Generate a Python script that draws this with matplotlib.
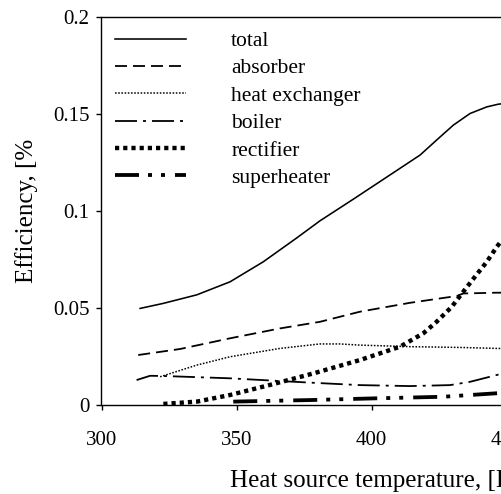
import matplotlib
matplotlib.use("Agg")
import matplotlib.pyplot as plt

plt.rcParams['font.family'] = ['Liberation Serif', 'DejaVu Serif']
plt.rcParams['lines.scale_dashes'] = False

# ---- data ----
total_T = [314.3, 322.9, 335.3, 347.6, 359.9, 372.3, 380.9, 393.3, 405.6, 418.0, 424.1, 430.3, 436.5, 442.7, 447.0, 451.0]
total_eff = [0.0499, 0.0525, 0.0569, 0.0636, 0.0739, 0.0862, 0.0950, 0.1062, 0.1175, 0.1289, 0.1366, 0.1443, 0.1503, 0.1537, 0.1551, 0.1557]

absorber_T = [313.6, 329.1, 347.6, 366.1, 380.9, 395.7, 414.3, 431.6, 434.0, 446.4, 451.0]
absorber_eff = [0.0259, 0.0290, 0.0345, 0.0396, 0.0430, 0.0482, 0.0528, 0.0563, 0.0576, 0.0580, 0.0580]

hx_T = [321.7, 335.3, 347.6, 366.1, 380.9, 388.3, 395.7, 414.3, 432.8, 446.4, 451.0]
hx_eff = [0.0147, 0.0207, 0.0250, 0.0293, 0.0316, 0.0316, 0.0310, 0.0302, 0.0298, 0.0293, 0.0292]

boiler_T = [313.0, 318.0, 322.9, 347.6, 366.1, 378.4, 395.7, 414.3, 429.1, 436.5, 446.4, 451.0]
boiler_eff = [0.0130, 0.0152, 0.0151, 0.0139, 0.0125, 0.0116, 0.0104, 0.0099, 0.0104, 0.0121, 0.0156, 0.0175]

rect_T = [322.9, 335.3, 347.6, 362.4, 378.4, 395.7, 410.6, 419.2, 424.1, 429.7, 434.0, 438.3, 442.7, 446.4, 451.0]
rect_eff = [0.0007, 0.0019, 0.0053, 0.0105, 0.0164, 0.0233, 0.0302, 0.0371, 0.0430, 0.0507, 0.0585, 0.0662, 0.0739, 0.0816, 0.0900]

super_T = [348.8, 377.2, 401.9, 426.6, 446.4, 451.0]
super_eff = [0.0019, 0.0027, 0.0036, 0.0044, 0.0062, 0.0066]

series_labels = ['total', 'absorber', 'heat exchanger', 'boiler', 'rectifier', 'superheater']
x_ticks = [300, 350, 400, 450]
y_ticks = [0, 0.05, 0.1, 0.15, 0.2]
y_tick_labels = ['0', '0.05', '0.1', '0.15', '0.2']

W, H = 502, 494
fig = plt.figure(figsize=(W / 100, H / 100), dpi=100)
left, right_px, top, bottom = 101.5, 101.5 + 540, 17.0, 405.3
ax = fig.add_axes([left / W, (H - bottom) / H, (right_px - left) / W, (bottom - top) / H])

px = 0.72  # points per pixel
ax.plot(total_T, total_eff, color='black', lw=1.6 * px, label=series_labels[0])
ax.plot(absorber_T, absorber_eff, color='black', lw=1.8 * px, dashes=(12 * px, 6 * px), label=series_labels[1])
ax.plot(hx_T, hx_eff, color='black', lw=1.5 * px, dashes=(1.6 * px, 1.6 * px), label=series_labels[2])
ax.plot(boiler_T, boiler_eff, color='black', lw=1.8 * px,
        dashes=(22 * px, 6 * px, 3 * px, 6 * px), label=series_labels[3])
ax.plot(rect_T, rect_eff, color='black', lw=4.4 * px, dashes=(4.2 * px, 4.0 * px), label=series_labels[4])
ax.plot(super_T, super_eff, color='black', lw=3.8 * px,
        dashes=(24 * px, 9 * px, 4 * px, 9 * px, 4 * px, 10 * px), label=series_labels[5])

ax.set_xlim(300, 500)
ax.set_ylim(0, 0.2)
ax.set_xticks(x_ticks)
ax.set_yticks(y_ticks)
ax.set_yticklabels(y_tick_labels)
ax.tick_params(axis='both', direction='out', length=5 * px, width=1.0, labelsize=15)
ax.tick_params(axis='x', pad=15)
ax.tick_params(axis='y', pad=5)
for s in ['left', 'bottom', 'top']:
    ax.spines[s].set_linewidth(1.0)
ax.spines['right'].set_visible(False)

leg = ax.legend(loc='upper left', bbox_to_anchor=(115 / W, 1 - 31 / H), bbox_transform=fig.transFigure,
                frameon=False, fontsize=15.5, handlelength=3.3, handletextpad=2.1,
                labelspacing=0.34, borderpad=0, borderaxespad=0)

fig.text(230 / W, 1 - 487 / H, 'Heat source temperature, [K]', fontsize=18, ha='left', va='baseline')
fig.text(27 / W, 1 - 283 / H, 'Efficiency, [%', fontsize=18, rotation=90, ha='center', va='bottom')

fig.savefig('out.png', dpi=100)
